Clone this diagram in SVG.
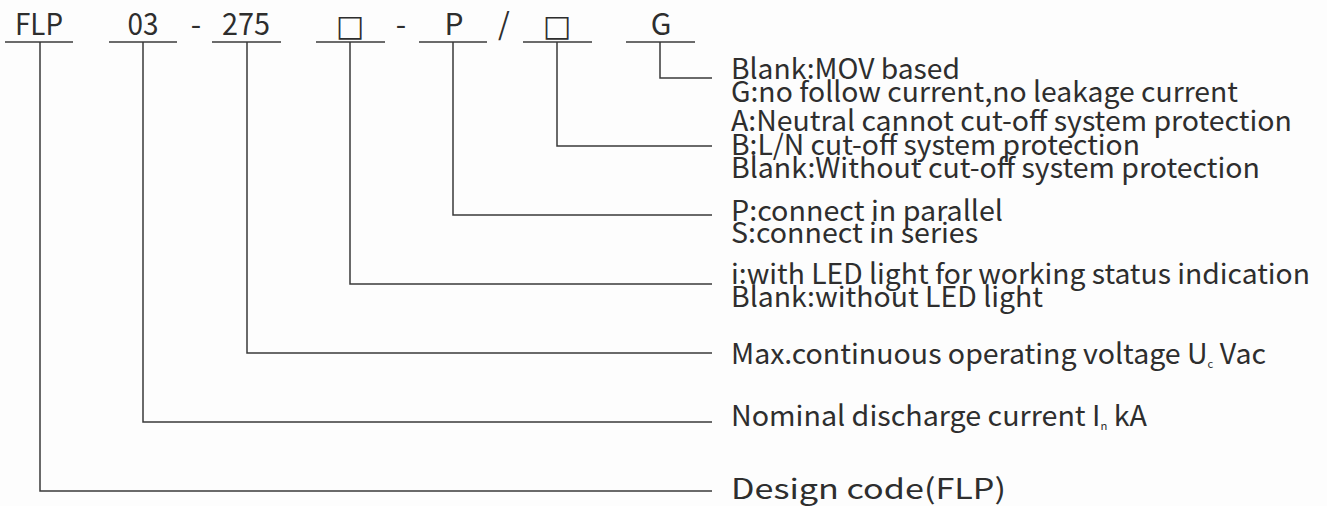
<svg xmlns="http://www.w3.org/2000/svg" width="1327" height="506" viewBox="0 0 1327 506">
<style>
.bg{fill:#fdfdfd}
.ln{fill:none;stroke:#3a3a3a;stroke-width:1.5}
.code{font-family:"Noto Sans CJK SC","Noto Sans",sans-serif;font-size:30px;fill:#2e2e2e;text-anchor:middle}
.box{font-family:"DejaVu Sans",sans-serif;font-size:30px;fill:#2e2e2e;text-anchor:middle}
.d{font-family:"Noto Sans CJK SC","Noto Sans",sans-serif;font-size:28px;fill:#2e2e2e}
.sub{font-size:11px}
</style>
<rect class="bg" x="0" y="0" width="1327" height="506"/>
<g id="code-FLP"><line class="ln" x1="5" y1="42" x2="73" y2="42"/><text class="code" x="39" y="35" textLength="48" lengthAdjust="spacingAndGlyphs">FLP</text></g>
<g id="code-03"><line class="ln" x1="109" y1="42" x2="177" y2="42"/><text class="code" x="143" y="35" textLength="31" lengthAdjust="spacingAndGlyphs">03</text></g>
<text class="code" x="196" y="35">-</text>
<g id="code-275"><line class="ln" x1="212" y1="42" x2="281" y2="42"/><text class="code" x="246" y="35" textLength="48" lengthAdjust="spacingAndGlyphs">275</text></g>
<g id="code-led"><line class="ln" x1="316" y1="42" x2="385" y2="42"/><text class="box" x="350" y="36">□</text></g>
<text class="code" x="401" y="35">-</text>
<g id="code-P"><line class="ln" x1="419" y1="42" x2="487" y2="42"/><text class="code" x="454" y="35">P</text></g>
<text class="code" x="504" y="35">/</text>
<g id="code-cutoff"><line class="ln" x1="523" y1="42" x2="592" y2="42"/><text class="box" x="557" y="36">□</text></g>
<g id="code-G"><line class="ln" x1="626" y1="42" x2="695" y2="42"/><text class="code" x="661" y="35">G</text></g>
<g id="connectors">
<path class="ln" d="M660 42 V78 H712"/>
<path class="ln" d="M557 42 V146 H712"/>
<path class="ln" d="M453 42 V215 H712"/>
<path class="ln" d="M350 42 V284 H712"/>
<path class="ln" d="M247 42 V353 H712"/>
<path class="ln" d="M143 42 V422 H712"/>
<path class="ln" d="M40 42 V491 H712"/>
</g>
<g id="desc-G">
<text class="d" x="731" y="79" textLength="229" lengthAdjust="spacingAndGlyphs">Blank:MOV based</text>
<text class="d" x="731" y="102" textLength="507" lengthAdjust="spacingAndGlyphs">G:no follow current,no leakage current</text>
</g>
<g id="desc-cutoff">
<text class="d" x="731" y="131" textLength="561" lengthAdjust="spacingAndGlyphs">A:Neutral cannot cut-off system protection</text>
<text class="d" x="731" y="155" textLength="409" lengthAdjust="spacingAndGlyphs">B:L/N cut-off system protection</text>
<text class="d" x="731" y="178" textLength="529" lengthAdjust="spacingAndGlyphs">Blank:Without cut-off system protection</text>
</g>
<g id="desc-P">
<text class="d" x="731" y="221" textLength="272" lengthAdjust="spacingAndGlyphs">P:connect in parallel</text>
<text class="d" x="731" y="243" textLength="247" lengthAdjust="spacingAndGlyphs">S:connect in series</text>
</g>
<g id="desc-led">
<text class="d" x="731" y="284" textLength="579" lengthAdjust="spacingAndGlyphs">i:with LED light for working status indication</text>
<text class="d" x="731" y="307" textLength="312" lengthAdjust="spacingAndGlyphs">Blank:without LED light</text>
</g>
<g id="desc-275">
<text class="d" x="731" y="364" textLength="535" lengthAdjust="spacingAndGlyphs">Max.continuous operating voltage U<tspan class="sub" dy="4">c</tspan><tspan dy="-4"> Vac</tspan></text>
</g>
<g id="desc-03">
<text class="d" x="731" y="426" textLength="416" lengthAdjust="spacingAndGlyphs">Nominal discharge current I<tspan class="sub" dy="4">n</tspan><tspan dy="-4"> kA</tspan></text>
</g>
<g id="desc-FLP">
<text class="d" x="731" y="499" textLength="275" lengthAdjust="spacingAndGlyphs">Design code(FLP)</text>
</g>
</svg>
